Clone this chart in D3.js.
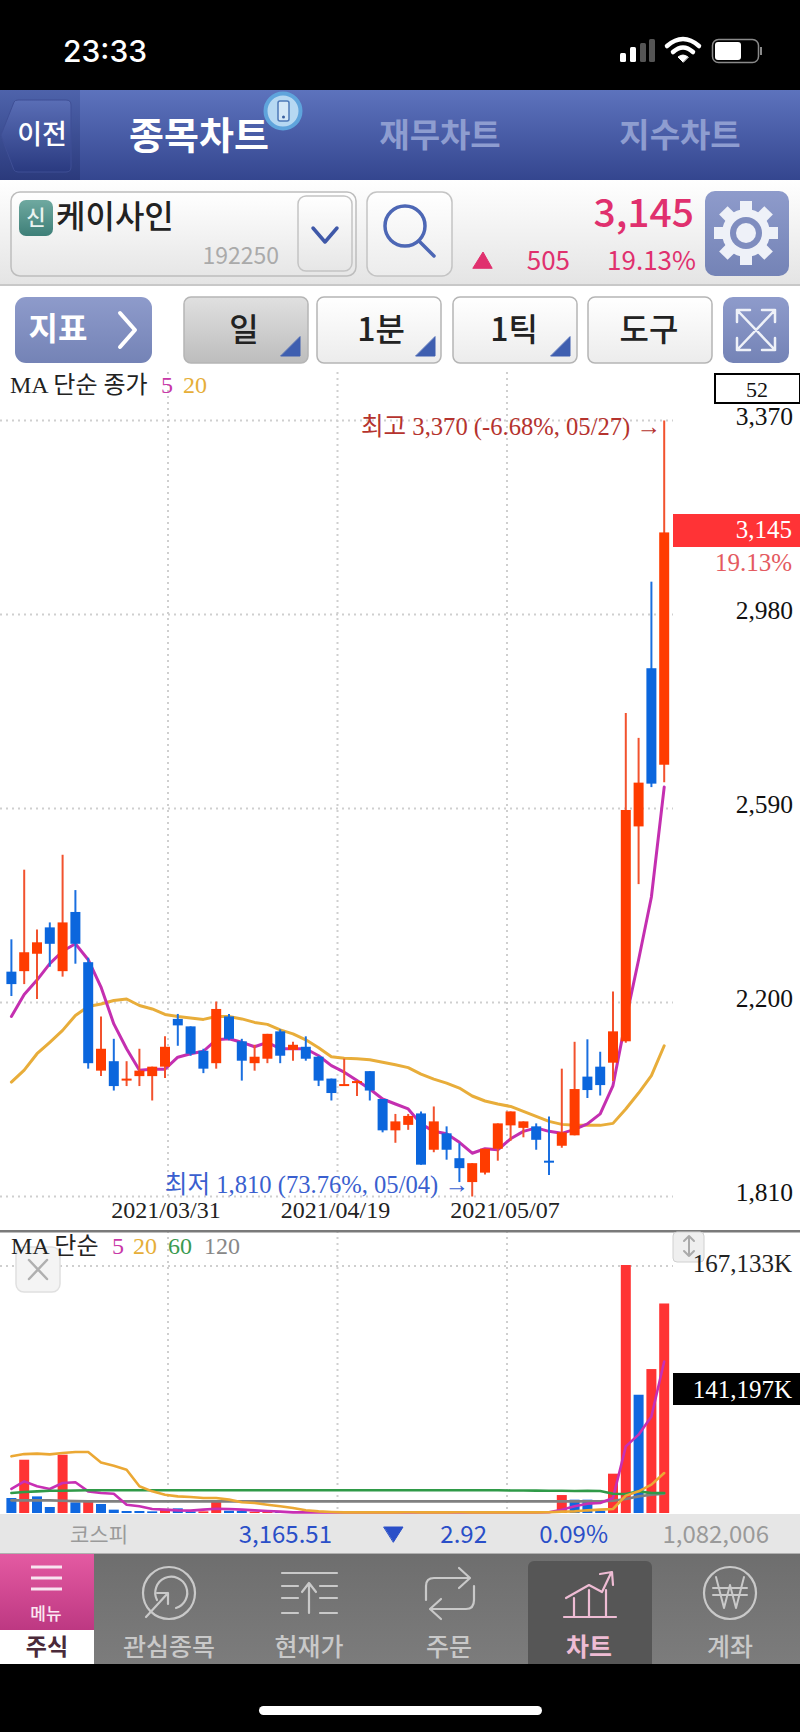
<!DOCTYPE html>
<html><head><meta charset="utf-8">
<script src="https://cdn.jsdelivr.net/npm/d3@7/dist/d3.min.js"></script>
<style>html,body{margin:0;padding:0;background:#000}svg{display:block}
text{font-family:"Noto Sans CJK KR","Noto Sans",sans-serif}
.serif{font-family:"Liberation Serif","Noto Sans CJK KR",serif}</style></head><body>
<div id="chart"></div>
<script>
const opens =[2262,2263,2298,2351,2263,2382,2281,2063,2082,2043,2052,2052,2071,2167,2152,2103,2078,2172,2122,2078,2087,2142,2105,2111,2091,2047,2033,2038,2062,2006,1943,1954,1977,1904,1937,1887,1839,1858,1906,1953,1948,1951,1882,1912,1933,2051,2071,2079,2122,2554,2872,2678];
const highs =[2327,2467,2347,2361,2497,2426,2290,2172,2127,2082,2107,2071,2132,2177,2152,2107,2202,2177,2127,2115,2137,2146,2121,2132,2093,2047,2087,2044,2062,2006,1976,1976,1981,1991,1951,1917,1877,1906,1957,1981,1961,1957,1971,2067,2121,2126,2101,2222,2782,2732,3046,3370];
const lows  =[2213,2237,2207,2272,2252,2278,2067,2052,2023,2032,2032,2003,2048,2113,2093,2058,2067,2124,2043,2063,2078,2078,2083,2083,2032,2003,2033,2012,2003,1939,1918,1944,1874,1899,1884,1839,1810,1854,1882,1922,1929,1904,1853,1908,1933,2008,2013,2042,2119,2438,2633,2643];
const closes=[2237,2301,2321,2318,2361,2318,2078,2107,2032,2047,2063,2071,2111,2154,2097,2067,2187,2127,2083,2091,2137,2093,2115,2087,2043,2018,2036,2042,2023,1943,1961,1972,1874,1961,1904,1867,1877,1906,1957,1981,1961,1924,1879,1939,2026,2024,2034,2142,2587,2642,2640,3145];
const priceMa5 =[2172,2216,2245,2278,2303,2318,2286,2231,2157,2107,2064,2066,2066,2090,2097,2102,2125,2127,2120,2111,2120,2107,2107,2107,2093,2073,2060,2043,2026,2006,1996,1986,1956,1941,1936,1919,1897,1906,1904,1926,1941,1948,1941,1937,1945,1956,1976,2033,2165,2286,2412,2633];
const priceMa20=[2040,2064,2097,2120,2144,2174,2192,2197,2204,2207,2194,2187,2176,2172,2169,2166,2172,2172,2167,2160,2156,2145,2137,2125,2109,2091,2088,2087,2085,2080,2075,2069,2056,2046,2038,2028,2012,2002,1996,1991,1981,1971,1961,1955,1953,1953,1953,1957,1986,2018,2053,2113];
const volumes =[10100,35900,11200,4040,39300,7180,7400,6060,2250,1350,1350,1120,2700,3140,1120,1120,7630,1570,1570,900,900,900,600,500,450,500,450,400,450,500,400,450,400,450,500,450,400,450,500,450,400,450,500,12100,8980,8980,1570,26500,167133,79700,97000,141197];
const volumeUp=[0,1,0,0,1,0,1,0,0,0,0,0,1,0,0,1,1,0,0,1,1,0,1,0,0,1,1,1,0,0,1,1,0,1,0,0,1,1,1,0,1,0,0,1,0,0,0,1,1,0,1,1];
const volMa5 =[16200,21300,18000,16200,20200,20700,14600,13500,13000,5600,4500,2700,2250,1800,1570,2250,2900,2700,2250,1800,1350,900,450,450,450,450,450,450,450,450,450,450,450,450,450,450,450,450,450,450,450,450,500,2250,4500,6300,6700,10100,44900,52800,65100,102100];
const volMa20=[38200,39700,40000,39500,40400,41100,41100,34100,31900,29200,18000,14600,12300,11200,10800,10100,10100,9000,7200,6700,5600,4500,3400,1800,1100,700,450,450,450,450,450,500,450,450,450,500,450,450,450,450,450,450,500,900,1100,1800,2250,2700,11700,14600,19100,26900];
const volMa60=[13500,14100,14600,15000,15000,15200,15300,15300,15300,15300,15300,15300,15300,15300,15300,15300,15300,15300,15300,15300,15300,15300,15300,15300,15300,15300,15300,15300,15300,15300,15300,15300,15300,15300,15300,15300,15300,15300,15300,15200,15200,15100,15000,15000,14800,14900,14800,13000,12800,14600,13500,13500];
const volMa120=[8530,8530,8530,8500,8300,8000,7860,7860,7860,7860,7860,7860,7860,7860,7860,7860,7860,7860,7860,7860,7860,7860,7860,7860,7860,7860,7860,7860,7860,7860,7860,7860,7860,7860,7860,7860,7860,7860,7860,7860,7860,7860,7860,7860,7860,7860,7860,8300,9430,11200,12300,13000];
const priceTicks=[3370,2980,2590,2200,1810];
const dateLabels=["2021/03/31","2021/04/19","2021/05/07"];
const volTop=167133, volLast=141197, lastPrice=3145, lastPct="19.13%";
const indexRow=["3,165.51","2.92","0.09%","1,082,006"];

const W=800,H=1732;
const svg=d3.select("#chart").append("svg").attr("width",W).attr("height",H).attr("viewBox",`0 0 ${W} ${H}`);
const defs=svg.append("defs");
function grad(id,stops){const g=defs.append("linearGradient").attr("id",id).attr("x1",0).attr("y1",0).attr("x2",0).attr("y2",1);
  stops.forEach(([o,c])=>g.append("stop").attr("offset",o).attr("stop-color",c));}
grad("hdr",[[0,"#5d73bd"],[1,"#34468f"]]);
grad("hdrL",[[0,"#4e63ab"],[1,"#2b3a7c"]]);
grad("back",[[0,"#5a6eb6"],[1,"#2a3a80"]]);
grad("row1",[[0,"#ffffff"],[1,"#e4e4e4"]]);
grad("box",[[0,"#ffffff"],[1,"#e6e6e6"]]);
grad("btn",[[0,"#ffffff"],[1,"#ececec"]]);
grad("btnOn",[[0,"#e0e0e0"],[1,"#bdbdbd"]]);
grad("blueBtn",[[0,"#8e9bcb"],[1,"#7483b6"]]);
grad("sin",[[0,"#6fa9a0"],[1,"#3e7f78"]]);
grad("menu",[[0,"#e45aa2"],[1,"#bd3882"]]);
grad("nav",[[0,"#6e6e6e"],[1,"#7c7c7c"]]);

function rect(x,y,w,h,fill,o={}){return svg.append("rect").attr("x",x).attr("y",y).attr("width",w).attr("height",h).attr("fill",fill)
  .attr("rx",o.r||0).attr("stroke",o.s||"none").attr("stroke-width",o.sw||1);}
function text(x,y,t,size,fill,o={}){return svg.append("text").attr("x",x).attr("y",y).attr("dy","0.35em").text(t).attr("font-size",size).attr("fill",fill)
  .attr("text-anchor",o.a||"middle").attr("font-weight",o.w||400).attr("class",o.c||null);}
function path(d,stroke,sw,fill){return svg.append("path").attr("d",d).attr("stroke",stroke||"none").attr("stroke-width",sw||1).attr("fill",fill||"none").attr("stroke-linecap","round").attr("stroke-linejoin","round");}

/* status bar */
rect(0,0,W,H,"#000");
text(63,51,"23:33",30,"#fff",{a:"start",w:500}).style("font-family","Inter");
[[620,53,6,"#fff"],[630,47,6,"#fff"],[640,43,6,"#555"],[649,39,6,"#555"]].forEach(b=>rect(b[0],b[1],b[2],62-b[1],b[3],{r:1.5}));
path("M667 46 Q683 32 699 46","#fff",4.5);path("M673 52 Q683 43 693 52","#fff",4.5);path("M683 62 L678 57 Q683 53 688 57 Z","#fff",1,"#fff");
rect(712.5,39.5,46,23,"none",{r:6,s:"#8a8a8a",sw:1.5});rect(715,42,26,18,"#fff",{r:3});rect(760,47,2,8,"#8a8a8a");

/* header */
rect(0,90,W,90,"url(#hdr)");rect(0,90,80,90,"url(#hdrL)");
path("M1 135 L14 102 Q15 100 18 100 L66 100 Q71 100 71 105 L71 167 Q71 172 66 172 L18 172 Q15 172 14 170 Z","#3f4f95",1,"url(#back)");
text(42,135,"이전",27,"#fff",{w:500});
text(199,136,"종목차트",38,"#fff",{w:700});
svg.append("circle").attr("cx",283).attr("cy",111).attr("r",17.5).attr("fill","#b6d8f2").attr("stroke","#5fa4dc").attr("stroke-width",4);
rect(278,101,11,20,"#d4e7f7",{r:2,s:"#4e79b8",sw:1.5});svg.append("circle").attr("cx",283.5).attr("cy",117).attr("r",1.5).attr("fill","#3a5fa0");
text(440,135,"재무차트",33,"#8e9dd0",{w:700});
text(680,135,"지수차트",33,"#8e9dd0",{w:700});

/* row 1 */
rect(0,180,W,105,"url(#row1)");rect(0,284,W,2,"#c8c8c8");
rect(11,192,345,84,"url(#box)",{r:9,s:"#bdbdbd",sw:1.5});
rect(19,200,34,36,"url(#sin)",{r:7});text(36,218,"신",21,"#eaf3f0",{w:500});
text(56,217,"케이사인",32,"#222",{a:"start",w:500});
text(279,256,"192250",23,"#aaa",{a:"end"});
rect(298,196,54,75,"url(#box)",{r:8,s:"#c4c4c4",sw:1.5});
path("M313 228 L325 242 L337 228","#3f58a8",3.5);
rect(367,192,85,84,"url(#btn)",{r:10,s:"#c4c4c4",sw:1.5});
svg.append("circle").attr("cx",405).attr("cy",226).attr("r",20).attr("fill","none").attr("stroke","#4d67b5").attr("stroke-width",3.5);
path("M419 241 L434 256","#4d67b5",3.5);
const pink="#e0306e";
text(694,213,"3,145",39,pink,{a:"end",w:500});
path("M473 268 L483 252 L492 268 Z",pink,1,pink);
text(570,261,"505",26,pink,{a:"end"});
text(696,261,"19.13%",26,pink,{a:"end"});
rect(705,191,84,85,"url(#blueBtn)",{r:10});
(function gear(){const g=svg.append("g").attr("transform","translate(746,233)");
  d3.range(8).forEach(i=>g.append("rect").attr("x",-6).attr("y",-32).attr("width",12).attr("height",14).attr("fill","#eef1f8").attr("transform",`rotate(${i*45})`));
  g.append("circle").attr("r",24).attr("fill","#eef1f8");
  g.append("circle").attr("r",16).attr("fill","#7f8dbf");
  g.append("circle").attr("r",10).attr("fill","#eef1f8");})();

/* row 2 */
rect(0,286,W,86,"#fff");
rect(15,297,137,66,"url(#blueBtn)",{r:11});
text(58,329,"지표",32,"#fff",{w:700});
path("M120 313 L135 330 L120 347","#fff",4);
const tools=[[184,"일",244,true,281],[317,"1분",381,false,416],[453,"1틱",514,false,551],[588,"도구",649,false,null]];
tools.forEach(([x,t,cx,on,tx])=>{rect(x,297,124,66,on?"url(#btnOn)":"url(#btn)",{r:7,s:"#b5b5b5",sw:1.5});
  text(cx,330,t,32,"#222",{w:500});
  if(tx) path(`M${tx} 356 L${tx+19} 356 L${tx+19} 337 Z`,"#3f5fb0",1,"#3f5fb0");});
rect(723,297,66,66,"url(#blueBtn)",{r:10});
path("M737 310 L775 350 M775 310 L737 350 M737 322 L737 310 L750 310 M762 310 L775 310 L775 322 M737 338 L737 350 L750 350 M762 350 L775 350 L775 338","#eef1f8",2.5);

/* chart panes */
rect(0,372,W,1143,"#fff");
const idx=d3.range(closes.length);
const x=d3.scalePoint().domain(idx).range([11.4,664.2]);
const y=d3.scaleLinear().domain([1810,3370]).range([1196.5,420.5]);
const yV=d3.scaleLinear().domain([0,volTop]).range([1513,1265]);
const gx=d3.scalePoint().domain(dateLabels).range([168,507]);
const grid=svg.append("g").attr("stroke","#cfcfcf").attr("stroke-width",2).attr("stroke-dasharray","2 4");
priceTicks.forEach(t=>grid.append("line").attr("x1",0).attr("x2",673).attr("y1",y(t)).attr("y2",y(t)));
grid.append("line").attr("x1",0).attr("x2",673).attr("y1",yV(volTop)+1).attr("y2",yV(volTop)+1);
dateLabels.forEach(d=>{grid.append("line").attr("x1",gx(d)).attr("x2",gx(d)).attr("y1",372).attr("y2",1196);
  grid.append("line").attr("x1",gx(d)).attr("x2",gx(d)).attr("y1",1231).attr("y2",1513);});

/* legend top */
text(10,385,"MA 단순 종가",24,"#222",{a:"start",c:"serif"});
text(161,385,"5",24,"#c838a8",{a:"start",c:"serif"});
text(183,385,"20",24,"#e6ae38",{a:"start",c:"serif"});
rect(715,374,85,29,"#fff",{s:"#000",sw:2});
text(757,389,"52",22,"#111",{c:"serif"});

/* price axis */
const axisP=d3.axisRight(y).tickValues(priceTicks).tickSize(0).tickFormat(d3.format(","));
const gA=svg.append("g").attr("transform","translate(793,-5)").call(axisP);
gA.select(".domain").remove();
gA.selectAll("text").attr("x",0).attr("dy","0.35em").attr("text-anchor","end").attr("font-size",25.5).attr("fill","#111").style("font-family",'"Liberation Serif",serif');

/* price MAs under candles */
const lineP=d=>d3.line().x((v,i)=>x(i)).y(v=>y(v))(d);
path(lineP(priceMa20),"#e8ad3a",3);
path(lineP(priceMa5),"#c42fb0",3);

/* candles */
const RED="#ff3c00",BLUE="#0b66dd";
const cg=svg.append("g").selectAll("g").data(idx).join("g");
cg.append("line").attr("x1",i=>x(i)).attr("x2",i=>x(i)).attr("y1",i=>y(highs[i])).attr("y2",i=>y(lows[i]))
  .attr("stroke",i=>closes[i]>=opens[i]?"#f2522e":"#1a6fe0").attr("stroke-width",2);
cg.append("rect").attr("x",i=>x(i)-5).attr("width",10)
  .attr("y",i=>y(Math.max(opens[i],closes[i])))
  .attr("height",i=>Math.max(2,Math.abs(y(opens[i])-y(closes[i]))))
  .attr("fill",i=>closes[i]>=opens[i]?RED:BLUE);

/* price annotations */
text(661,426,"최고 3,370 (-6.68%, 05/27) →",24.6,"#b5332e",{a:"end",c:"serif"});
text(469,1184,"최저 1,810 (73.76%, 05/04) →",24.6,"#3a5fcf",{a:"end",c:"serif"});
dateLabels.forEach(d=>text(gx(d)-2,1210,d,24,"#222",{c:"serif"}));
rect(673,514,127,33,"#ff3336");
text(792,529,d3.format(",")(lastPrice),25,"#fff",{a:"end",c:"serif"});
text(792,562,lastPct,25,"#e45a60",{a:"end",c:"serif"});

/* divider & volume pane */
rect(0,1230,W,2.5,"#7a7a7a");
rect(16,1247,44,45,"#f4f4f4",{r:8,s:"#e0e0e0",sw:1.5});
path("M29 1260 L47 1279 M47 1260 L29 1279","#b0b0b0",2.5);
text(11,1246,"MA 단순",24,"#222",{a:"start",c:"serif"});
text(112,1246,"5",24,"#c838a8",{a:"start",c:"serif"});
text(133,1246,"20",24,"#e6ae38",{a:"start",c:"serif"});
text(168,1246,"60",24,"#3a9a50",{a:"start",c:"serif"});
text(204,1246,"120",24,"#888",{a:"start",c:"serif"});
rect(673,1232,31,30,"#efefef",{r:4,s:"#d0d0d0",sw:1});
path("M689 1236 L689 1256 M684 1241 L689 1236 L694 1241 M684 1251 L689 1256 L694 1251","#aaa",2);

svg.append("g").selectAll("rect").data(idx).join("rect")
  .attr("x",i=>x(i)-5).attr("width",10)
  .attr("y",i=>yV(volumes[i])).attr("height",i=>yV(0)-yV(volumes[i]))
  .attr("fill",i=>volumeUp[i]?"#ff3333":"#1068e0");
const lineV=d=>d3.line().x((v,i)=>x(i)).y(v=>yV(v))(d);
path(lineV(volMa120),"#808080",2.6);
path(lineV(volMa5),"#c82fb4",2.6);
path(lineV(volMa60),"#2f9a48",2.6);
path(lineV(volMa20),"#eba834",2.6);
text(792,1263,d3.format(",")(volTop)+"K",25,"#222",{a:"end",c:"serif"});
rect(673,1373,127,32,"#000");
text(792,1389,d3.format(",")(volLast)+"K",25,"#fff",{a:"end",c:"serif"});

/* index strip */
rect(0,1514,W,40,"#e6e6e6");rect(0,1553,W,1.5,"#b0b0b0");
const blue2="#2a4fc8";
text(99,1535,"코스피",21,"#9a9a9a");
text(332,1535,indexRow[0],24,blue2,{a:"end"});
path("M384 1527 L403 1527 L393.5 1542 Z",blue2,1,blue2);
text(487,1535,indexRow[1],24,blue2,{a:"end"});
text(608,1535,indexRow[2],24,blue2,{a:"end"});
text(769,1535,indexRow[3],24,"#9a9a9a",{a:"end"});

/* nav */
rect(0,1554,W,110,"url(#nav)");
rect(528,1561,124,103,"#565656",{r:6});rect(528,1650,124,14,"#565656");
rect(0,1554,94,76,"url(#menu)");rect(0,1630,94,34,"#fff");
[1567,1578,1589].forEach(v=>rect(31,v-1.5,31,3,"#f8e4f0"));
text(46,1614,"메뉴",17,"#fbe8f2",{w:500});
text(47,1647,"주식",23,"#4a2a3a",{w:700});
const ic="#c9c9c9";
svg.append("circle").attr("cx",169).attr("cy",1593).attr("r",26).attr("fill","none").attr("stroke",ic).attr("stroke-width",2.2);
path("M157 1600 A16 16 0 1 1 176 1608",ic,2.2);path("M146 1617 L168 1593 M157 1593 L168 1593 L168 1604",ic,2.2);
path("M282 1573 L337 1573 M282 1586 L298 1586 M320 1586 L337 1586 M282 1598 L298 1598 M320 1598 L337 1598 M282 1613 L298 1613 M320 1613 L337 1613 M309 1613 L309 1583 M302 1592 L309 1583 L316 1592",ic,2.2);
path("M426 1600 L426 1586 Q426 1578 434 1578 L468 1578 M459 1568 L470 1578 L459 1588 M474 1586 L474 1600 Q474 1609 466 1609 L432 1609 M441 1599 L430 1609 L441 1619",ic,2.2);
const pk="#eebcd4";
path("M564 1617 L616 1617 M574 1617 L574 1598 M589 1617 L589 1590 M606 1617 L606 1590 M566 1598 L589 1585 L602 1592 L611 1573 M600 1574 L612 1572 L613 1585",pk,2.2);
svg.append("circle").attr("cx",730).attr("cy",1593).attr("r",26).attr("fill","none").attr("stroke",ic).attr("stroke-width",2.2);
path("M716 1577 L724 1608 L730 1585 L736 1608 L744 1577 M713 1588 L747 1588 M713 1595 L747 1595",ic,2);
[["관심종목",169],["현재가",309],["주문",449],["계좌",730]].forEach(([t,cx])=>text(cx,1647,t,25,"#c9c9c9",{w:500}));
text(589,1647,"차트",25,pk,{w:700});

/* home indicator */
rect(259,1706,283,9,"#fff",{r:4.5});
</script></body></html>
